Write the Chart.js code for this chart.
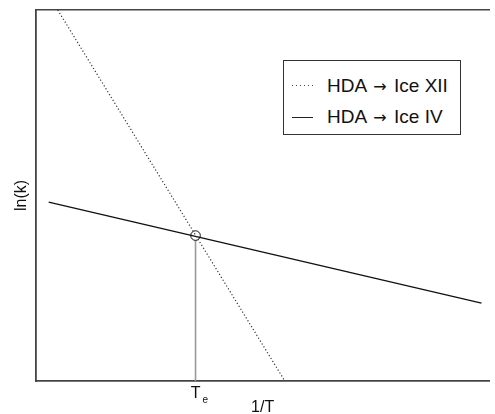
<!DOCTYPE html>
<html>
<head>
<meta charset="utf-8">
<script src="https://cdn.jsdelivr.net/npm/chart.js@4"></script>
<style>
  html, body { margin: 0; padding: 0; background: #fff; }
  #wrap { position: relative; width: 495px; height: 414px; font-family: 'Liberation Sans', Arial, sans-serif; }
  #legend {
    position: absolute; left: 283px; top: 60px; width: 178px; height: 75px;
    box-sizing: border-box; border: 1px solid #333; background: #fff;
    padding-top: 9px; color: #111; font-size: 19px;
  }
  #legend .row { display: flex; align-items: center; height: 31.5px; }
  #legend .swatch { width: 21px; height: 1px; margin-left: 8px; margin-right: 14px; }
  #legend .dotted { background: repeating-linear-gradient(to right, #444 0 1px, transparent 1px 4px); }
  #legend .solid { background: #222; height: 1.3px; }
  #legend .arr { font-family: 'DejaVu Sans', sans-serif; font-size: 16px; margin: 0 2px; }
</style>
</head>
<body>
<div id="wrap">
  <canvas id="grafico"></canvas>
  <div id="legend"></div>
</div>
<script>
'use strict';

// ---- dati (unità arbitrarie, assi 0..10) ----
const serieDa = ['HDA', 'HDA'];
const serieA = ['Ice XII', 'Ice IV'];
const serieNomi = serieDa.map((d, i) => d + ' → ' + serieA[i]);
const ice12X = [0.48, 5.49];
const ice12Y = [10, 0];
const ice4X = [0.28, 9.83];
const ice4Y = [4.82, 2.10];
const teX = [3.52];          // temperatura di equilibrio
const teY = [3.92];          // ln(k) al punto d'incrocio
const xTickValues = [3.52];
const xTickLabels = ['T'];
const xTickPedici = ['e'];
const xTitolo = '1/T';
const yTitolo = 'ln(k)';

const coppie = (xs, ys) => xs.map((x, i) => ({ x: x, y: ys[i] }));

const FAM = "'Liberation Sans', Arial, sans-serif";
const font16 = { family: FAM, size: 16, lineHeight: 1 };

// etichetta T con pedice, posizionata con la scala x
const etichettaTe = {
  id: 'etichettaTe',
  afterDraw(chart) {
    const ctx = chart.ctx;
    const sx = chart.scales.x;
    const y0 = sx.top + 17;
    ctx.save();
    ctx.fillStyle = '#111';
    ctx.textBaseline = 'alphabetic';
    xTickValues.forEach((v, i) => {
      const px = sx.getPixelForValue(v);
      ctx.font = '16px ' + FAM;
      ctx.textAlign = 'center';
      ctx.fillText(xTickLabels[i], px, y0);
      const w = ctx.measureText(xTickLabels[i]).width;
      ctx.font = '10px ' + FAM;
      ctx.textAlign = 'left';
      ctx.fillText(xTickPedici[i], px + w / 2 + 2, y0 + 5);
    });
    ctx.restore();
  }
};

new Chart(document.getElementById('grafico'), {
  type: 'line',
  data: {
    datasets: [
      {
        label: serieNomi[0],
        data: coppie(ice12X, ice12Y),
        borderColor: '#333',
        borderWidth: 1.2,
        borderDash: [1.2, 2.2],
        pointRadius: 0
      },
      {
        label: serieNomi[1],
        data: coppie(ice4X, ice4Y),
        borderColor: '#111',
        borderWidth: 1.4,
        pointRadius: 0
      },
      {
        label: 'Te',
        data: coppie(teX, teY),
        showLine: false,
        pointRadius: 4.8,
        borderColor: '#111',
        borderWidth: 1,
        pointBackgroundColor: '#fff'
      },
      {
        label: 'Te-linea',
        data: [{ x: teX[0], y: 0 }, { x: teX[0], y: teY[0] }],
        borderColor: '#9a9a9a',
        borderWidth: 1.6,
        pointRadius: 0
      }
    ]
  },
  options: {
    responsive: true,
    maintainAspectRatio: false,
    animation: false,
    layout: { padding: 0 },
    plugins: { legend: { display: false }, tooltip: { enabled: false } },
    scales: {
      x: {
        type: 'linear', position: 'bottom', min: 0, max: 10,
        afterFit: s => { s.height = 33; },
        ticks: { display: false },
        grid: { display: false, drawTicks: false },
        border: { display: true, color: '#444', width: 1.8 },
        title: { display: true, text: xTitolo, color: '#111', font: font16, padding: { top: 0, bottom: -2 } }
      },
      x2: {
        type: 'linear', position: 'top', min: 0, max: 10,
        afterFit: s => { s.height = 10; },
        ticks: { display: false },
        grid: { display: false, drawTicks: false },
        border: { display: true, color: '#444', width: 1.4 }
      },
      y: {
        type: 'linear', min: 0, max: 10,
        afterFit: s => { s.width = 36; },
        ticks: { display: false },
        grid: { display: false, drawTicks: false },
        border: { display: true, color: '#444', width: 1.8 },
        title: { display: true, text: yTitolo, color: '#111', font: font16, padding: { top: 14, bottom: 0 } }
      }
    }
  },
  plugins: [etichettaTe]
});

// legenda in HTML con cornice
const leg = document.getElementById('legend');
leg.innerHTML = serieDa.map((d, i) =>
  `<div class="row"><span class="swatch ${i === 0 ? 'dotted' : 'solid'}"></span>` +
  `<span>${d} <span class="arr">→</span> ${serieA[i]}</span></div>`
).join('');
</script>
</body>
</html>
